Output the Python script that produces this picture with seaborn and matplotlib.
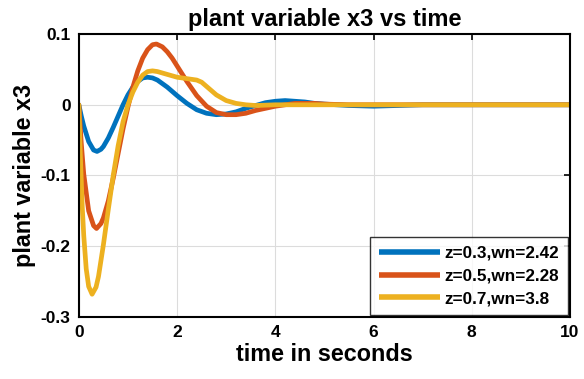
import numpy as np
import pandas as pd
import seaborn as sns
import matplotlib
matplotlib.use("Agg")
import matplotlib.pyplot as plt

labels = ["z=0.3,wn=2.42", "z=0.5,wn=2.28", "z=0.7,wn=3.8"]
colors = ["#0072BD", "#D95319", "#EDB120"]

t_blue = [0, 0.05, 0.1, 0.2, 0.3, 0.37, 0.45, 0.5, 0.6, 0.7, 0.8, 0.9, 1.0, 1.1, 1.2, 1.3, 1.4,
          1.5, 1.6, 1.7, 1.8, 1.9, 2.0, 2.2, 2.4, 2.6, 2.8, 3.0, 3.2, 3.4, 3.6, 3.8, 4.0,
          4.2, 4.4, 4.6, 4.8, 5.0, 5.5, 6.0, 6.5, 7.0, 8.0, 9.0, 10.0]
y_blue = [0, -0.016, -0.030, -0.052, -0.064, -0.066, -0.063, -0.059, -0.047, -0.032, -0.016,
          0.000, 0.014, 0.025, 0.033, 0.038, 0.039, 0.038, 0.035, 0.030, 0.025, 0.019, 0.013,
          0.002, -0.007, -0.012, -0.014, -0.013, -0.010, -0.005, -0.001, 0.003, 0.005, 0.006,
          0.005, 0.004, 0.002, 0.001, -0.001, -0.002, -0.001, 0.0, 0.0, 0.0, 0.0]

t_orange = [0, 0.05, 0.1, 0.2, 0.3, 0.36, 0.45, 0.5, 0.6, 0.7, 0.8, 0.9, 1.0, 1.1, 1.2, 1.3,
            1.4, 1.5, 1.58, 1.7, 1.8, 1.9, 2.0, 2.2, 2.4, 2.6, 2.8, 3.0, 3.2, 3.4, 3.6, 3.8,
            4.0, 4.2, 4.4, 4.6, 4.8, 5.0, 5.5, 6.0, 7.0, 8.0, 9.0, 10.0]
y_orange = [0, -0.055, -0.098, -0.150, -0.171, -0.175, -0.168, -0.160, -0.136, -0.104, -0.069,
            -0.034, -0.003, 0.025, 0.048, 0.066, 0.078, 0.085, 0.086, 0.082, 0.075, 0.066,
            0.055, 0.033, 0.013, -0.002, -0.011, -0.014, -0.014, -0.012, -0.008, -0.005,
            -0.002, 0.000, 0.002, 0.002, 0.002, 0.001, 0.0, 0.0, 0.0, 0.0, 0.0, 0.0]

t_yellow = [0, 0.03, 0.07, 0.1, 0.15, 0.2, 0.27, 0.35, 0.4, 0.5, 0.6, 0.7, 0.8, 0.9, 1.0,
            1.1, 1.2, 1.3, 1.4, 1.5, 1.6, 1.7, 1.8, 1.9, 2.0, 2.2, 2.4, 2.5, 2.6, 2.8, 3.0,
            3.2, 3.4, 3.6, 4.0, 5.0, 6.0, 7.0, 8.0, 9.0, 10.0]
y_yellow = [0, -0.070, -0.145, -0.185, -0.232, -0.257, -0.268, -0.258, -0.243, -0.198, -0.148,
            -0.100, -0.058, -0.024, 0.000, 0.018, 0.032, 0.042, 0.047, 0.048, 0.047, 0.045,
            0.043, 0.041, 0.039, 0.037, 0.035, 0.032, 0.026, 0.014, 0.006, 0.002, 0.000,
            -0.001, 0.0, 0.0, 0.0, 0.0, 0.0, 0.0, 0.0]

xticks = [0, 2, 4, 6, 8, 10]
yticks = [-0.3, -0.2, -0.1, 0, 0.1]
ytick_labels = ["-0.3", "-0.2", "-0.1", "0", "0.1"]

frames = []
for lab, t, y in zip(labels, [t_blue, t_orange, t_yellow], [y_blue, y_orange, y_yellow]):
    frames.append(pd.DataFrame({"time": t, "x3": y, "series": lab}))
df = pd.concat(frames, ignore_index=True)

sns.set_style("white")
plt.rcParams["font.family"] = ["Liberation Sans", "DejaVu Sans"]
plt.rcParams["font.weight"] = "bold"
plt.rcParams["text.color"] = "black"
plt.rcParams["axes.labelcolor"] = "black"
plt.rcParams["xtick.color"] = "black"
plt.rcParams["ytick.color"] = "black"

fig = plt.figure(figsize=(5.84, 3.79), dpi=100)
ax = fig.add_axes([0.135, 0.164, 0.841, 0.746])

sns.lineplot(data=df, x="time", y="x3", hue="series", hue_order=labels,
             palette=colors, linewidth=3.4, ax=ax, sort=True, estimator=None)

ax.set_xlim(0, 10)
ax.set_ylim(-0.3, 0.1)
ax.set_xticks(xticks)
ax.set_xticklabels([str(v) for v in xticks], fontsize=12.5, fontweight="bold", color="black")
ax.set_yticks(yticks)
ax.set_yticklabels(ytick_labels, fontsize=12.5, fontweight="bold", color="black")
ax.grid(True, color="#dcdcdc", linewidth=0.8)
ax.set_axisbelow(True)
ax.tick_params(direction="in", length=4, width=1.2, top=True, right=True, pad=6, colors="black")
for s in ax.spines.values():
    s.set_visible(True)
    s.set_color("black")
    s.set_linewidth(1.5)

ax.set_xlabel("time in seconds", fontsize=16.8, fontweight="bold", labelpad=2, color="black")
ax.set_ylabel("plant variable x3", fontsize=16.8, fontweight="bold", labelpad=3, color="black")
ax.set_title("plant variable x3 vs time", fontsize=17, fontweight="bold", pad=6, color="black")

leg = ax.legend(loc="lower right", fontsize=12.3, frameon=True, fancybox=False,
                edgecolor="black", handlelength=3.6, borderaxespad=0.12,
                labelspacing=0.45, handletextpad=0.25, borderpad=0.5)
leg.get_frame().set_linewidth(1.0)
for txt in leg.get_texts():
    txt.set_fontweight("bold")
    txt.set_color("black")
for line in leg.get_lines():
    line.set_linewidth(4)
    line.set_solid_capstyle("butt")

fig.savefig("out.png", dpi=100)
